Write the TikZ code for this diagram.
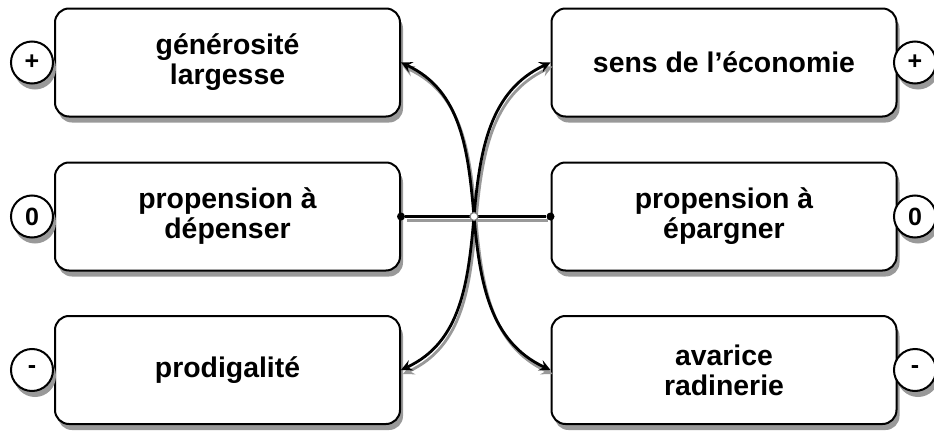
\documentclass[tikz,border=0pt]{standalone}
\usepackage{fontspec}
\setmainfont{Liberation Sans}
\usepackage{tikz}
\usetikzlibrary{shadows}
\newcommand{\boxfont}{\fontsize{14.2}{15}\selectfont\bfseries}
\newcommand{\signfont}{\fontsize{12.5}{13}\selectfont\bfseries}
\tikzstyle{trait}=[draw, line width=1pt, rounded corners=7pt, fill=white,
                   minimum width=172.5pt, minimum height=54pt, align=center,
                   font=\boxfont, inner sep=0,
                   general shadow={fill=black!40, shadow xshift=1.5pt, shadow yshift=-3pt}]
\tikzstyle{sign}=[draw, circle, line width=1pt, fill=white, minimum size=21pt,
                  inner sep=0, font=\signfont,
                  general shadow={fill=black!40, shadow xshift=1.5pt, shadow yshift=-3pt}]
\tikzstyle{joint}=[fill, circle, inner sep=0, minimum size=4pt]
\tikzstyle{hub}=[draw=gray, circle, fill=white, line width=0.6pt, inner sep=0, minimum size=4pt]
\tikzstyle{link}=[line width=1.4pt,
                  preaction={draw=black!40, line width=1.4pt,
                             transform canvas={shift={(1pt,-2pt)}}}]
\tikzstyle{diagram}=[x=0.5pt, y=-0.5pt]

\begin{document}
\begin{tikzpicture}[diagram]
        \useasboundingbox (0, 0) rectangle (934, 434);
        % left column
        \node[trait] (gen) at (227.5, 62.5) {générosité\\largesse};
        \node[trait] (dep) at (227.5, 216.5) {propension à\\dépenser};
        \node[trait] (prod) at (227.5, 370) {prodigalité};
        % right column
        \node[trait] (eco) at (724, 62.5) {sens de l’économie};
        \node[trait] (epa) at (724, 216.5) {propension à\\épargner};
        \node[trait] (ava) at (724, 370) {avarice\\radinerie};
        % signs
        \node[sign] (genS) at (32, 62.5) {+};
        \node[sign] (depS) at (32, 216.5) {0};
        \node[sign] (prodS) at (32, 370) {-};
        \node[sign] (ecoS) at (915, 62.5) {+};
        \node[sign] (epaS) at (915, 216.5) {0};
        \node[sign] (avaS) at (915, 370) {-};
        % links
        \node[joint] (depJ) at (dep.east) {};
        \node[joint] (epaJ) at (epa.west) {};
        \coordinate (mid) at (474, 216.5);
        \draw[link] (depJ) -- (epaJ);
        \draw[link, -stealth] (mid) to[out=95, in=-25] (gen.east);
        \draw[link, -stealth] (mid) to[out=85, in=-155] (eco.west);
        \draw[link, -stealth] (mid) to[out=-95, in=25] (prod.east);
        \draw[link, -stealth] (mid) to[out=-85, in=155] (ava.west);
        \node[hub] (hub) at (mid) {};
    \end{tikzpicture}
\end{document}
